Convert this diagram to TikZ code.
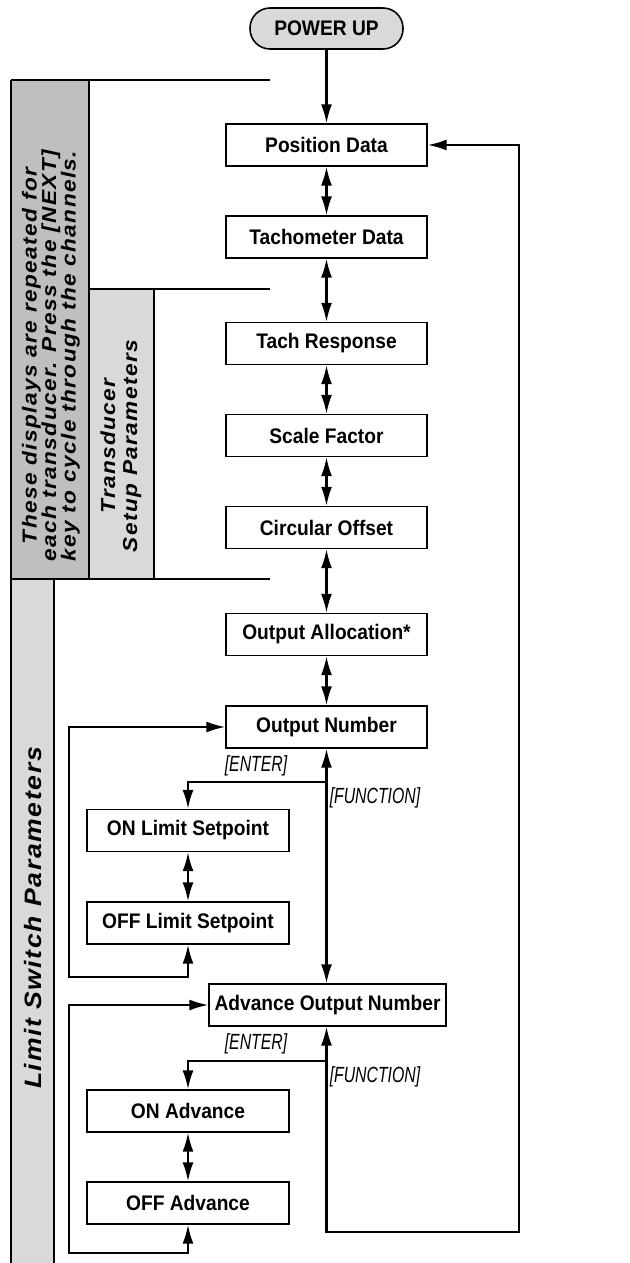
\documentclass[tikz,border=0pt]{standalone}
\usepackage{fontspec}
\usetikzlibrary{arrows.meta}
\newfontfamily\boxfont[FakeStretch=0.91]{Liberation Sans}
\newfontfamily\panelfont[FakeStretch=1.12,LetterSpace=7]{Liberation Sans}
\newfontfamily\keyfont[FakeStretch=0.72]{Liberation Sans}
\definecolor{panelA}{HTML}{BFBFBF}
\definecolor{panelB}{HTML}{D9D9D9}
\tikzset{
  stepbox/.style={draw, line width=0.8pt, minimum height=0.84cm, inner sep=0pt,
    font=\boxfont\fontsize{12}{14}\selectfont\bfseries},
  mainbox/.style={stepbox, minimum width=4.02cm},
  subbox/.style={stepbox, minimum width=4.04cm},
  conn/.style={line width=1.2pt, -{Latex[length=0.38cm,width=0.22cm]}},
  biconn/.style={line width=1.2pt, {Latex[length=0.38cm,width=0.22cm]}-{Latex[length=0.38cm,width=0.22cm]}},
  plain/.style={line width=1.2pt},
  keylabel/.style={font=\keyfont\fontsize{12.5}{14}\selectfont\itshape, inner sep=0pt},
  paneltext/.style={font=\panelfont\bfseries\itshape, rotate=90, align=center, inner sep=0pt}
}
\begin{document}
\begin{tikzpicture}[x=0.02cm, y=-0.02cm]
\useasboundingbox (0,0) rectangle (629,1263);
% side panels
\fill[panelA] (11,80) rectangle (89,580);
\fill[panelB] (89,289) rectangle (154,580);
\fill[panelB] (11,580) rectangle (54,1263);
\draw[line width=1.2pt] (11,80) -- (11,1263);
\draw[line width=0.8pt] (89,80) -- (89,580);
\draw[line width=0.8pt] (154,289) -- (154,580);
\draw[line width=0.8pt] (54,580) -- (54,1263);
\draw[plain] (11,80) -- (270,80);
\draw[plain] (89,289) -- (270,289);
\draw[plain] (11,579) -- (270,579);
\node[paneltext, font=\panelfont\fontsize{11.5}{11.1}\selectfont\bfseries\itshape] (ptA) at (51,356)
  {These displays are repeated for\\each transducer. Press the [NEXT]\\key to cycle through the channels.};
\node[paneltext, font=\panelfont\fontsize{11.5}{12.5}\selectfont\bfseries\itshape] (ptB) at (121,446)
  {Transducer\\Setup Parameters};
\node[paneltext, font=\panelfont\fontsize{13.5}{15}\selectfont\bfseries\itshape] (ptC) at (33,918)
  {Limit Switch Parameters};
% start
\node[draw, line width=0.9pt, fill=panelB, rounded corners=0.4cm, minimum width=3.06cm,
  minimum height=0.82cm, inner sep=0pt, font=\boxfont\fontsize{12}{14}\selectfont\bfseries] (pu) at (326.5,28.5) {POWER UP};
% main boxes
\node[mainbox] (pd) at (326.5,145) {Position Data};
\node[mainbox] (td) at (326.5,237) {Tachometer Data};
\node[mainbox] (tr) at (326.5,343.5) {Tach Response};
\node[mainbox] (sf) at (326.5,435.5) {Scale Factor};
\node[mainbox] (co) at (326.5,527.5) {Circular Offset};
\node[mainbox] (oa) at (326.5,634.5) {Output Allocation*};
\node[mainbox] (on) at (326.5,727) {Output Number};
\node[stepbox, minimum width=4.74cm] (aon) at (327.5,1005) {Advance Output Number};
\node[subbox] (onl) at (188,830.5) {ON Limit Setpoint};
\node[subbox] (offl) at (188,923) {OFF Limit Setpoint};
\node[subbox] (ona) at (188,1111) {ON Advance};
\node[subbox] (offa) at (188,1203) {OFF Advance};
% labels
\node[keylabel] (e1) at (256,766) {[ENTER]};
\node[keylabel] (f1) at (375,798) {[FUNCTION]};
\node[keylabel] (e2) at (256,1044) {[ENTER]};
\node[keylabel] (f2) at (375,1077) {[FUNCTION]};
% coordinates
\coordinate (b1) at (326.5,782);
\coordinate (b2) at (326.5,1061);
\coordinate (l1a) at (188,977);
\coordinate (l1b) at (69,977);
\coordinate (l2a) at (188,1253);
\coordinate (l2b) at (69,1253);
\coordinate (r1) at (326.5,1232);
\coordinate (r2) at (519,1232);
% connectors
\draw[conn] (pu.south) -- (pd.north);
\draw[biconn] (pd.south) -- (td.north);
\draw[biconn] (td.south) -- (tr.north);
\draw[biconn] (tr.south) -- (sf.north);
\draw[biconn] (sf.south) -- (co.north);
\draw[biconn] (co.south) -- (oa.north);
\draw[biconn] (oa.south) -- (on.north);
\draw[biconn] (on.south) -- (on.south |- aon.north);
\draw[conn] (b1) -| (onl.north);
\draw[biconn] (onl.south) -- (offl.north);
\draw[biconn] (offl.south) -- (l1a) -- (l1b) |- (on.west);
\draw[conn] (b2) -| (ona.north);
\draw[biconn] (ona.south) -- (offa.north);
\draw[biconn] (offa.south) -- (l2a) -- (l2b) |- (aon.west);
\draw[biconn] (aon.south -| r1) -- (r1) -- (r2) |- (pd.east);
\end{tikzpicture}
\end{document}
